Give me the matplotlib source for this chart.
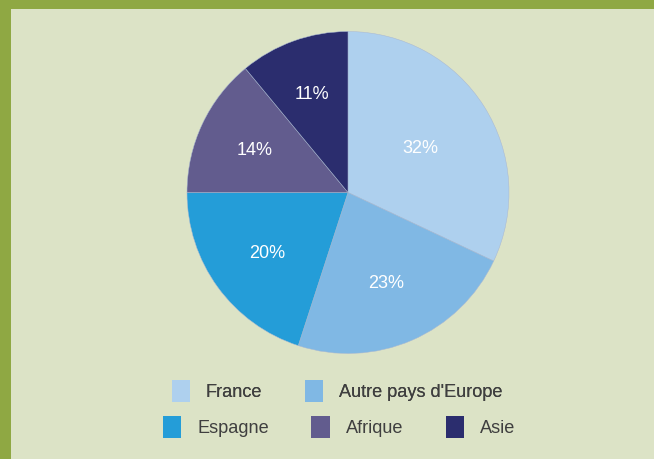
import numpy as np
import matplotlib as mpl
mpl.use('Agg')
import matplotlib.pyplot as plt
from matplotlib.patches import Rectangle, Patch

plt.rcParams['font.family'] = ['Liberation Sans', 'DejaVu Sans']

labels = ['France', "Autre pays d'Europe", 'Espagne', 'Afrique', 'Asie']
parts = [32, 23, 20, 14, 11]
colors = ['#aed0ee', '#80b8e4', '#249dd8', '#625c8e', '#2b2d6e']
label_dist = [0.53, 0.60, 0.62, 0.64, 0.66]

fig = plt.figure(figsize=(6.54, 4.59), dpi=100)
fig.patch.set_facecolor('#8fa843')
# light panel inside the green frame
fig.patches.append(Rectangle((11 / 654, 0), 1, (459 - 9) / 459,
                             transform=fig.transFigure, facecolor='#dce3c6',
                             edgecolor='none', zorder=-5))

cx, cy, r = 348, 192.5, 161
ax = fig.add_axes([(cx - r) / 654, 1 - (cy + r) / 459, 2 * r / 654, 2 * r / 459])
ax.set_zorder(2)
wedges, texts, autotexts = ax.pie(parts, colors=colors, startangle=90, counterclock=False,
                                  autopct='%d%%', radius=1,
                                  wedgeprops=dict(edgecolor='#a9b8d2', linewidth=0.35),
                                  textprops=dict(color='white', fontsize=13))
for w, t, d in zip(wedges, autotexts, label_dist):
    ang = np.deg2rad((w.theta1 + w.theta2) / 2)
    t.set_position((d * np.cos(ang), d * np.sin(ang)))
    t.set_va('center_baseline')
ax.set_xlim(-1, 1)
ax.set_ylim(-1, 1)
ax.set_aspect('auto')
ax.axis('off')

handles = [Patch(facecolor=c, edgecolor='none') for c in colors]
leg_kw = dict(loc='center', frameon=False, fontsize=13.1, handlelength=1.0, handleheight=1.4,
              handletextpad=0.88, columnspacing=2.35, borderpad=0, labelcolor='#3f3f3f')
leg1 = fig.legend(handles[:2], labels[:2], ncol=2, bbox_to_anchor=(337 / 654, 1 - 391 / 459), **leg_kw)
fig.add_artist(leg1)
fig.legend(handles[2:], labels[2:], ncol=3, bbox_to_anchor=(339 / 654, 1 - 427 / 459), **leg_kw)

fig.savefig('out.png', dpi=100, facecolor=fig.get_facecolor())
